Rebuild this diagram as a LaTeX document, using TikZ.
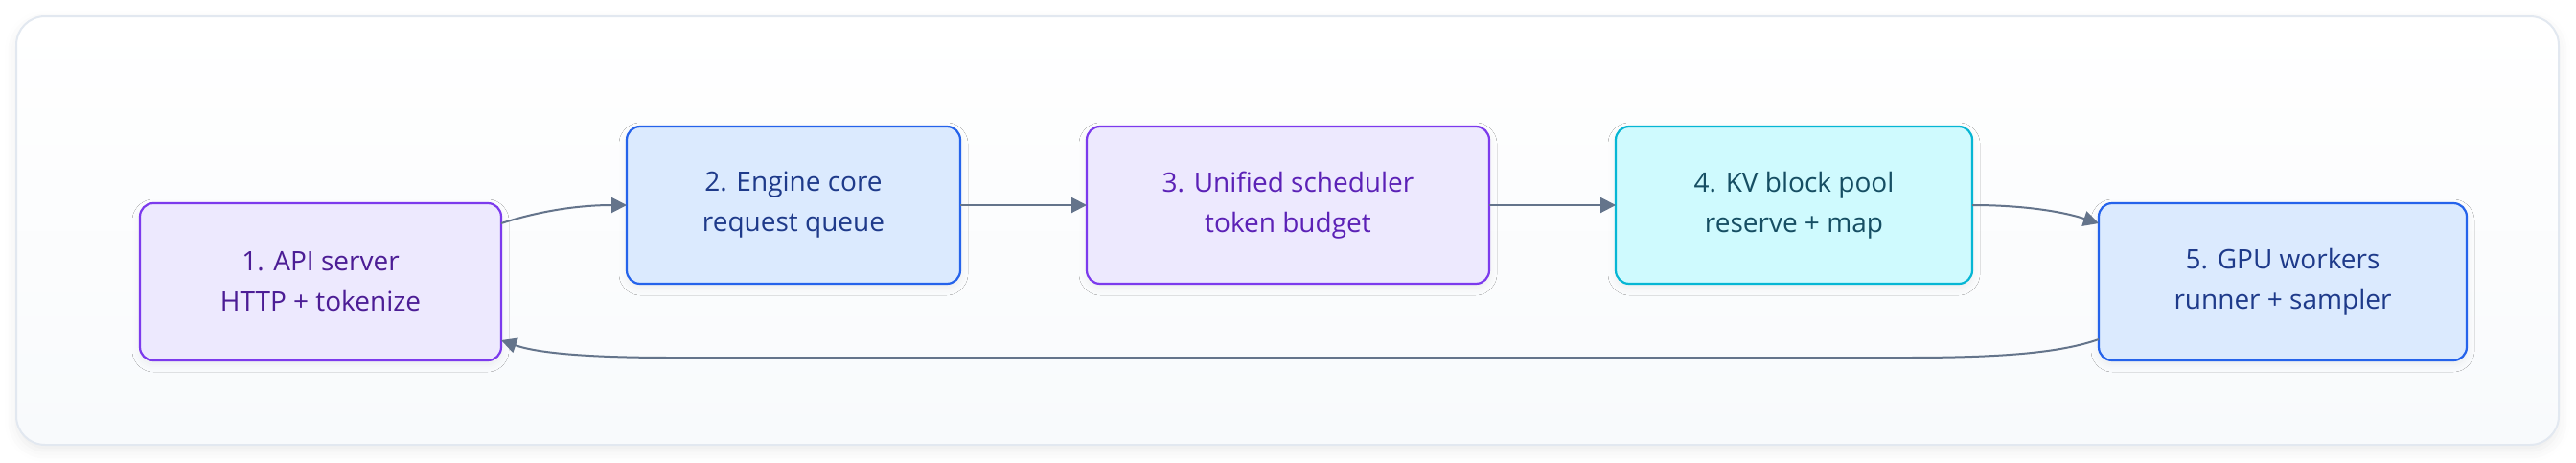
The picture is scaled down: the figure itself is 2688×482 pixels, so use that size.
\documentclass[tikz,border=0pt]{standalone}
\usepackage{fontspec}
\setmainfont{Open Sans}
\usetikzlibrary{arrows.meta,shadows.blur,calc}
\definecolor{edgec}{HTML}{64748B}
\definecolor{framec}{HTML}{E2E8F0}
\definecolor{framebot}{HTML}{F8FAFC}
\definecolor{vfill}{HTML}{EDE9FE}
\definecolor{vdraw}{HTML}{7C3AED}
\definecolor{vtexta}{HTML}{4C1D95}
\definecolor{vtextb}{HTML}{5B21B6}
\definecolor{bfill}{HTML}{DBEAFE}
\definecolor{bdraw}{HTML}{2563EB}
\definecolor{btext}{HTML}{1E3A8A}
\definecolor{cfill}{HTML}{CFFAFE}
\definecolor{cdraw}{HTML}{06B6D4}
\definecolor{ctext}{HTML}{164E63}
\begin{document}
\begin{tikzpicture}[x=1pt,y=-1pt,
  framebox/.style={rounded corners=30pt, line width=2pt, draw=framec, top color=white, bottom color=framebot, inner sep=0pt, outer sep=0pt,
    blur shadow={shadow xshift=0pt, shadow yshift=-6pt, shadow opacity=8, shadow blur radius=12pt}},
  stepbox/.style={rounded corners=14pt, line width=2.2pt, inner sep=0pt, outer sep=0pt, align=center,
    font=\fontsize{28}{42}\selectfont, minimum height=164pt,
    blur shadow={shadow xshift=0pt, shadow yshift=-4pt, shadow opacity=6, shadow blur radius=8pt}},
  violetbox/.style={stepbox, fill=vfill, draw=vdraw},
  bluebox/.style={stepbox, fill=bfill, draw=bdraw, text=btext},
  cyanbox/.style={stepbox, fill=cfill, draw=cdraw, text=ctext},
  flow/.style={draw=edgec, line width=2pt, -{Triangle[length=16pt,width=16pt]}}
]
\useasboundingbox (0,0) rectangle (2688,482);
\node[framebox, minimum width=2653pt, minimum height=447pt] (frame) at (1343.5,240.5) {};

\node[violetbox, text=vtexta, minimum width=377pt] (b1) at (334.5,294) {1. API server\\HTTP + tokenize};
\node[bluebox, minimum width=348pt] (b2) at (828,214) {2. Engine core\\request queue};
\node[violetbox, text=vtextb, minimum width=420pt] (b3) at (1344,214) {3. Unified scheduler\\token budget};
\node[cyanbox, minimum width=372pt] (b4) at (1872,214) {4. KV block pool\\reserve + map};
\node[bluebox, minimum width=384pt] (b5) at (2382,294) {5. GPU workers\\runner + sampler};

\coordinate (r1) at (1990,373);
\coordinate (r2) at (700,373);

\draw[flow] ($(b1.north east)+(0,21)$) .. controls +(40,-13) and +(-50,0) .. (b2.west);
\draw[flow] (b2.east) -- (b3.west);
\draw[flow] (b3.east) -- (b4.west);
\draw[flow] (b4.east) .. controls +(50,0) and +(-40,-13) .. ($(b5.north west)+(0,21)$);
\draw[flow] ($(b5.south west)+(0,-22)$) .. controls +(-40,14) and +(100,0) .. (r1) -- (r2) .. controls +(-90,0) and +(37,13) .. ($(b1.south east)+(0,-21)$);
\end{tikzpicture}
\end{document}
